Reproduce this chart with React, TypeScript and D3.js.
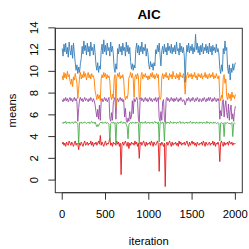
import { useMemo } from 'react'
import * as d3 from 'd3'

// one value every 10 iterations (0..2000)
const STEP = 10

const blue = [
  12.1, 11.4, 12.5, 11.8, 12.6, 11.6, 12.2, 11.3, 12.7, 11.9,
  11.5, 12.4, 11.2, 12.6, 11.7, 10.8, 10.1, 10.6, 9.8, 10.4,
  9.9, 10.7, 11.2, 12.3, 11.6, 12.8, 11.9, 12.4, 11.5, 12.6,
  11.8, 12.3, 11.4, 12.7, 11.9, 12.2, 11.5, 12.5, 11.7, 10.6,
  10.1, 10.8, 9.9, 10.5, 10.2, 11.9, 12.5, 11.6, 12.9, 11.8,
  12.4, 11.5, 12.6, 11.9, 12.2, 11.4, 12.7, 11.8, 12.3, 11.6,
  10.3, 9.9, 10.7, 10.2, 12.1, 11.6, 12.5, 11.8, 12.3, 11.5,
  12.6, 11.9, 12.2, 11.4, 12.7, 11.8, 12.4, 11.6, 12.2, 10.9,
  10.2, 10.7, 10.1, 10.6, 10.3, 12.0, 12.6, 11.7, 12.4, 11.5,
  12.3, 11.8, 12.7, 11.6, 12.2, 11.9, 12.5, 11.4, 12.1, 11.7,
  10.6, 10.2, 10.9, 10.4, 10.7, 10.1, 10.8, 10.5, 12.0, 11.6,
  12.4, 11.8, 12.6, 11.5, 10.5, 11.9, 12.3, 11.6, 12.5, 11.8,
  12.2, 11.5, 12.6, 11.9, 12.3, 11.7, 12.5, 11.6, 12.2, 11.8,
  12.4, 11.6, 12.7, 11.9, 12.1, 11.5, 12.6, 11.8, 12.3, 11.7,
  12.2, 11.4, 9.0, 11.3, 12.4, 11.8, 12.6, 11.7, 12.3, 11.9,
  12.5, 11.6, 12.2, 11.8, 13.4, 12.0, 12.6, 11.7, 12.3, 11.5,
  12.4, 11.8, 12.6, 11.6, 12.2, 11.9, 12.5, 11.7, 12.3, 11.6,
  12.6, 11.8, 12.3, 11.5, 12.4, 11.9, 12.2, 11.7, 12.5, 11.8,
  12.1, 11.6, 10.3, 9.8, 10.6, 10.0, 12.1, 11.6, 12.8, 11.9,
  12.2, 10.4, 9.8, 10.6, 9.2, 10.3, 9.9, 10.7, 10.1, 10.5,
  10.8,
]

const orange = [
  9.6, 9.2, 9.9, 9.4, 9.8, 9.3, 10.0, 9.5, 9.7, 9.1,
  8.8, 9.3, 8.6, 9.5, 9.2, 9.8, 9.4, 8.9, 7.5, 8.4,
  9.5, 9.9, 9.3, 9.7, 9.4, 10.0, 9.5, 9.8, 9.2, 9.6,
  9.9, 9.4, 9.7, 9.3, 9.8, 9.5, 9.6, 9.2, 8.2, 7.8,
  7.4, 7.9, 7.5, 7.8, 7.3, 9.3, 9.7, 9.4, 9.9, 9.5,
  9.8, 9.3, 9.7, 9.4, 9.6, 9.1, 7.7, 7.4, 7.9, 7.5,
  9.3, 9.7, 6.6, 9.4, 9.8, 9.5, 9.9, 9.3, 9.6, 9.4,
  9.7, 9.2, 7.8, 7.4, 7.7, 7.5, 7.9, 9.4, 9.6, 9.9,
  9.4, 9.8, 9.3, 7.6, 9.5, 9.7, 9.3, 9.8, 9.5, 7.4,
  7.7, 9.6, 9.9, 9.3, 9.7, 9.5, 9.8, 9.4, 9.6, 9.2,
  9.6, 9.3, 9.8, 9.5, 9.9, 9.4, 9.7, 9.3, 9.6, 9.8,
  9.4, 9.7, 7.8, 7.4, 7.6, 9.4, 9.8, 9.3, 9.7, 9.5,
  9.9, 9.4, 9.6, 9.2, 9.8, 9.5, 9.7, 9.3, 10.0, 9.5,
  9.6, 9.3, 9.8, 9.4, 9.7, 9.2, 9.9, 9.5, 9.6, 9.4,
  9.8, 9.3, 7.9, 9.2, 9.6, 9.9, 9.4, 9.7, 9.5, 9.8,
  9.3, 9.7, 9.5, 9.9, 9.4, 9.6, 9.2, 9.8, 9.5, 9.7,
  9.4, 9.8, 9.3, 9.6, 9.5, 9.9, 9.4, 9.7, 9.3, 9.6,
  9.8, 9.4, 9.7, 9.5, 9.9, 9.3, 9.6, 9.4, 9.8, 9.5,
  9.3, 9.6, 7.6, 7.3, 7.8, 7.5, 9.4, 9.7, 8.9, 9.3,
  7.7, 7.4, 8.0, 7.5, 7.9, 7.3, 8.1, 7.6, 7.8, 7.5,
  7.9,
]

const purple = [
  7.4, 7.2, 7.5, 7.3, 7.6, 7.3, 7.5, 7.2, 7.4, 7.6,
  7.3, 7.5, 7.2, 7.4, 7.6, 7.3, 7.5, 7.2, 5.4, 6.6,
  7.4, 7.6, 7.3, 7.5, 7.2, 7.4, 7.6, 7.3, 7.5, 7.4,
  7.2, 7.5, 7.3, 7.6, 7.4, 7.2, 7.5, 7.3, 6.9, 6.3,
  5.8, 6.5, 5.6, 6.9, 5.5, 7.3, 7.5, 7.2, 7.4, 7.6,
  7.3, 7.5, 7.2, 7.4, 7.6, 5.7, 5.4, 6.2, 5.5, 7.1,
  7.4, 7.6, 5.6, 7.3, 7.5, 7.2, 7.4, 7.6, 7.3, 7.5,
  7.2, 7.4, 5.8, 6.6, 5.5, 5.3, 5.7, 5.4, 6.3, 5.6,
  5.9, 7.3, 6.1, 7.5, 7.2, 7.4, 7.6, 7.3, 5.6, 5.3,
  7.4, 7.6, 7.3, 7.5, 7.2, 7.4, 7.6, 7.3, 7.5, 7.2,
  7.4, 7.6, 7.3, 7.5, 7.2, 7.4, 7.5, 7.3, 7.6, 7.2,
  7.4, 7.6, 5.7, 5.4, 6.3, 5.5, 7.2, 7.4, 5.6, 5.3,
  7.4, 7.6, 7.3, 7.5, 7.2, 7.4, 7.6, 7.3, 7.5, 7.2,
  7.5, 7.3, 7.6, 7.4, 7.2, 7.5, 7.3, 7.6, 7.4, 7.2,
  7.4, 7.3, 6.9, 7.2, 7.5, 7.3, 7.6, 7.4, 7.2, 7.5,
  7.3, 7.6, 7.4, 7.2, 7.5, 7.3, 7.6, 7.4, 7.2, 7.5,
  7.4, 7.2, 7.5, 7.3, 7.6, 7.4, 7.2, 7.5, 7.3, 7.6,
  7.3, 7.6, 7.4, 7.2, 7.5, 7.3, 7.6, 7.4, 7.2, 7.5,
  7.3, 7.5, 5.6, 6.4, 5.9, 7.2, 7.4, 5.8, 6.8, 7.3,
  6.2, 5.7, 7.0, 5.5, 6.4, 6.9, 5.6, 6.1, 5.4, 6.3,
  6.8,
]

const green = [
  5.3, 5.2, 5.35, 5.25, 5.4, 5.2, 5.3, 5.25, 5.35, 5.2,
  5.3, 5.25, 5.35, 5.2, 5.3, 5.4, 5.25, 5.3, 5.2, 3.3,
  5.3, 5.25, 5.35, 5.2, 5.3, 5.25, 5.35, 5.3, 5.2, 5.3,
  5.25, 5.35, 5.2, 5.3, 5.4, 5.25, 5.3, 5.2, 5.35, 5.1,
  4.9, 5.1, 4.95, 5.2, 5.3, 5.25, 5.35, 5.2, 5.3, 5.25,
  5.35, 5.2, 5.3, 5.25, 5.1, 3.6, 5.2, 5.3, 5.25, 5.35,
  5.2, 5.3, 3.4, 5.25, 5.35, 5.2, 5.3, 5.25, 5.4, 5.3,
  5.2, 5.35, 5.25, 5.3, 5.1, 4.9, 3.8, 5.1, 5.25, 5.3,
  5.2, 5.35, 5.25, 5.3, 5.2, 5.35, 5.25, 5.3, 5.2, 3.3,
  5.3, 5.25, 5.35, 5.2, 5.3, 5.25, 5.4, 5.2, 5.3, 5.25,
  5.35, 5.2, 5.3, 5.25, 5.35, 5.2, 5.3, 5.4, 5.25, 5.3,
  5.2, 5.35, 3.5, 5.25, 5.3, 5.2, 5.35, 5.25, 3.6, 5.3,
  5.2, 5.35, 5.25, 5.3, 5.2, 5.4, 5.25, 5.3, 5.2, 5.35,
  5.25, 5.3, 5.2, 5.35, 5.25, 5.3, 5.4, 5.2, 5.3, 5.25,
  5.35, 5.2, 5.3, 5.25, 5.35, 5.2, 5.3, 5.25, 5.4, 5.3,
  5.2, 5.35, 5.25, 5.3, 5.2, 5.35, 5.25, 5.3, 5.2, 5.35,
  5.25, 5.3, 5.2, 5.35, 5.25, 5.3, 5.2, 5.4, 5.25, 5.3,
  5.2, 5.35, 5.25, 5.3, 5.2, 5.35, 5.25, 5.3, 5.2, 5.25,
  5.3, 5.2, 3.6, 5.25, 5.3, 5.2, 5.25, 4.0, 5.3, 5.2,
  5.25, 5.3, 5.2, 5.25, 5.15, 5.2, 5.3, 4.0, 5.2, 5.25,
  5.2,
]

const red = [
  3.3, 3.5, 3.2, 3.4, 3.1, 3.5, 3.3, 3.2, 3.6, 3.4,
  3.2, 3.5, 3.3, 3.1, 3.4, 3.6, 3.2, 3.4, 3.3, 2.8,
  3.4, 3.2, 3.5, 3.3, 3.1, 3.4, 3.6, 3.2, 3.3, 3.5,
  3.2, 3.4, 3.3, 3.6, 3.2, 3.5, 3.1, 3.4, 3.3, 3.5,
  3.2, 3.4, 3.6, 3.3, 4.1, 3.2, 3.5, 3.3, 3.1, 3.4,
  3.6, 3.2, 3.4, 3.3, 3.5, 3.9, 3.2, 3.4, 3.1, 3.5,
  3.3, 3.4, 3.2, 3.6, 3.3, 3.5, 3.1, 3.4, 0.5, 3.3,
  3.5, 3.2, 3.4, 3.6, 3.3, 3.1, 3.5, 2.9, 3.4, 3.2,
  3.5, 3.3, 3.4, 3.2, 3.6, 3.3, 3.5, 3.1, 3.4, 2.0,
  3.3, 3.5, 3.2, 3.4, 3.6, 3.3, 3.1, 3.5, 3.2, 3.4,
  3.3, 3.5, 3.2, 3.6, 3.4, 3.1, 3.5, 3.3, 3.2, 3.4,
  3.6, 3.3, 0.8, 3.4, 3.2, 3.5, 3.3, 3.1, 3.4, -0.6,
  3.3, 3.5, 3.2, 3.4, 3.6, 3.3, 3.1, 3.5, 3.2, 3.4,
  3.3, 3.5, 3.2, 3.4, 3.1, 3.6, 3.3, 3.5, 3.2, 3.4,
  3.3, 3.5, 3.2, 3.4, 3.6, 3.3, 3.1, 3.5, 3.2, 3.4,
  3.6, 3.3, 3.5, 3.2, 3.4, 3.1, 3.5, 3.3, 3.2, 3.4,
  3.3, 3.5, 3.2, 3.6, 3.4, 3.1, 3.5, 3.3, 3.2, 3.4,
  3.5, 3.2, 3.4, 3.3, 3.6, 3.2, 3.5, 3.1, 3.4, 3.3,
  3.5, 3.2, 1.7, 3.4, 3.6, 3.3, 3.1, 3.5, 3.2, 3.4,
  3.3, 3.5, 3.2, 3.6, 3.4, 3.3, 3.5, 3.2, 3.4, 3.3,
  3.4,
]

// drawn in this order (last on top)
const series = [
  { values: red, color: '#E41A1C' },
  { values: green, color: '#4DAF4A' },
  { values: purple, color: '#984EA3' },
  { values: orange, color: '#FF7F00' },
  { values: blue, color: '#377EB8' },
]

const xTicks = [0, 500, 1000, 1500, 2000]
const yTicks = [0, 2, 4, 6, 8, 10, 12, 14]

const W = 249
const H = 249
const left = 55.3
const right = 242.3
const top = 28.3
const bottom = 192.7
const FONT = 'Liberation Sans, Arial, Helvetica, sans-serif'
const FS = 11.25

export default function App() {
  const { x, y } = useMemo(() => {
    const xMax = (blue.length - 1) * STEP
    const xPad = xMax * 0.04
    const all = series.flatMap(s => s.values)
    const [lo, hi] = d3.extent(all) as [number, number]
    const yPad = (hi - lo) * 0.04
    return {
      x: d3.scaleLinear().domain([-xPad, xMax + xPad]).range([left, right]),
      y: d3.scaleLinear().domain([lo - yPad, hi + yPad]).range([bottom, top]),
    }
  }, [])

  const line = d3.line<number>()
    .x((_, i) => x(i * STEP))
    .y(d => y(d))

  const axisColor = '#333'

  return (
    <>
      <style>{'body{margin:0}'}</style>
      <svg width={W} height={H} style={{ display: 'block', background: '#fff' }} fontFamily={FONT}>
        <text x={149} y={14} textAnchor="middle" dominantBaseline="central" fontWeight="bold" fontSize={13.5}>AIC</text>

        {series.map((s, i) => (
          <path key={i} d={line(s.values) ?? ''} fill="none" stroke={s.color}
            strokeWidth={1} strokeOpacity={0.9} strokeLinejoin="round" />
        ))}

        <rect x={left} y={top} width={right - left} height={bottom - top}
          fill="none" stroke={axisColor} strokeWidth={1} />

        {/* x axis */}
        <line x1={x(xTicks[0])} x2={x(xTicks[xTicks.length - 1])} y1={bottom} y2={bottom} stroke={axisColor} />
        {xTicks.map(t => (
          <g key={t}>
            <line x1={x(t)} x2={x(t)} y1={bottom} y2={bottom + 7} stroke={axisColor} />
            <text x={x(t)} y={214} textAnchor="middle" dominantBaseline="central" fontSize={FS}>{t}</text>
          </g>
        ))}
        <text x={(left + right) / 2} y={241} textAnchor="middle" dominantBaseline="central" fontSize={FS}>iteration</text>

        {/* y axis */}
        <line x1={left} x2={left} y1={y(yTicks[0])} y2={y(yTicks[yTicks.length - 1])} stroke={axisColor} />
        {yTicks.map(t => (
          <g key={t}>
            <line x1={left - 7} x2={left} y1={y(t)} y2={y(t)} stroke={axisColor} />
            <text transform={`translate(34,${y(t)}) rotate(-90)`} textAnchor="middle" dominantBaseline="central" fontSize={FS}>{t}</text>
          </g>
        ))}
        <text transform={`translate(12,${(top + bottom) / 2}) rotate(-90)`} textAnchor="middle" dominantBaseline="central" fontSize={FS}>means</text>
      </svg>
    </>
  )
}
